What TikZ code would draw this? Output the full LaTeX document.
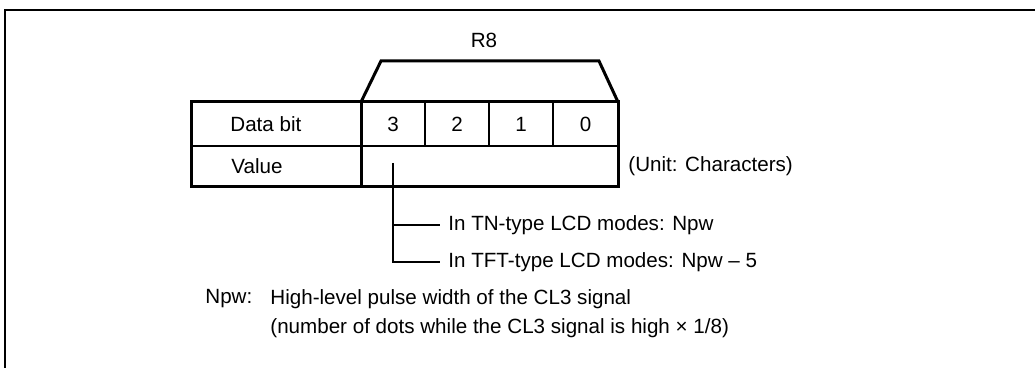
\documentclass[tikz,border=0pt]{standalone}
\usepackage{fontspec}
\setmainfont{Liberation Sans}
\begin{document}
\begin{tikzpicture}[x=0.5pt,y=-0.5pt,
  txt/.style={font=\fontsize{10.3}{12}\selectfont, inner sep=0pt},
  frameline/.style={line width=1pt},
  outerline/.style={line width=1.5pt},
  innerline/.style={line width=1.2pt},
  branch/.style={line width=1.1pt}]
\useasboundingbox (0,0) rectangle (1035,368);
% frame (cropped)
\draw[frameline] (5,368) -- (5,10) -- (1035,10);
% register table
\coordinate (tl) at (191,102);
\coordinate (br) at (618,187);
\draw[outerline] (tl) rectangle (br);
\draw[innerline] (191,146) -- (618,146);
\draw[outerline] (361,102) -- (361,187);
\draw[innerline] (425,102) -- (425,146);
\draw[innerline] (489,102) -- (489,146);
\draw[innerline] (553,102) -- (553,146);
\draw[outerline, line join=miter] (361,102) -- (381,61) -- (599,61) -- (618,102);
% texts
\node[txt] (r8) at (484,40) {R8};
\node[txt, anchor=west] (db) at (230,124) {Data bit};
\node[txt, anchor=west] (val) at (231,166.5) {Value};
\node[txt] (b3) at (393,124) {3};
\node[txt] (b2) at (457,124) {2};
\node[txt] (b1) at (521,124) {1};
\node[txt] (b0) at (585.5,124) {0};
\node[txt, anchor=west] (unit) at (628,166.5) {(Unit: Characters)};
% branches
\coordinate (vtop) at (393,163);
\node[txt, anchor=west] (tn) at (448,225) {In TN-type LCD modes: Npw};
\node[txt, anchor=west] (tft) at (448,262) {In TFT-type LCD modes: Npw -- 5};
\draw[branch] (vtop) -- (vtop |- tft.west) -- ([xshift=-4pt]tft.west);
\draw[branch] (vtop |- tn.west) -- ([xshift=-4pt]tn.west);
% note
\node[txt, anchor=west] (npw) at (205,299) {Npw:};
\node[txt, anchor=west] (def1) at (270,299) {High-level pulse width of the CL3 signal};
\node[txt, anchor=west] (def2) at (270,328) {(number of dots while the CL3 signal is high × 1/8)};
\end{tikzpicture}
\end{document}
